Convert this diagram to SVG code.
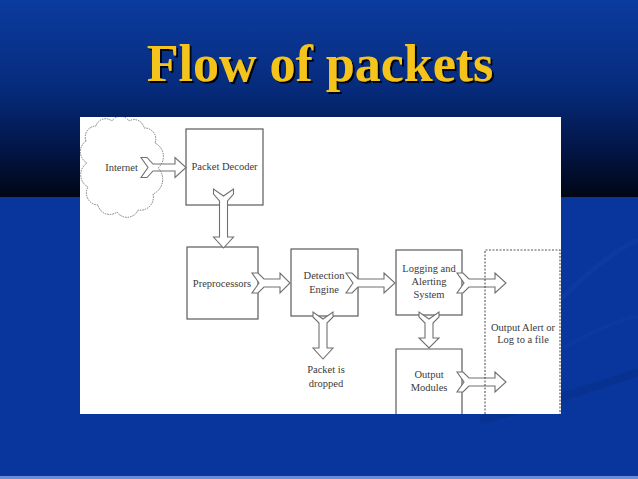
<svg xmlns="http://www.w3.org/2000/svg" width="638" height="479" viewBox="0 0 638 479">
<defs>
<linearGradient id="topbg" x1="0" y1="0" x2="0" y2="1">
<stop offset="0" stop-color="#0b3b9f"/>
<stop offset="0.45" stop-color="#062b7c"/>
<stop offset="0.75" stop-color="#021648"/>
<stop offset="1" stop-color="#000614"/>
</linearGradient>
<filter id="shadow" x="-5%" y="-10%" width="110%" height="130%">
<feDropShadow dx="2" dy="2" stdDeviation="0.6" flood-color="#000000" flood-opacity="0.9"/>
</filter>
<clipPath id="panel">
<rect x="80" y="117" width="481" height="297"/>
</clipPath>
</defs>
<style>
.lbl{font-family:"Liberation Serif","Times New Roman",serif;font-size:10.5px;fill:#3a3a3a;text-anchor:middle}
.box{fill:#ffffff;stroke:#5a5a5a;stroke-width:1.2}
.arr{fill:#ffffff;stroke:#707070;stroke-width:1.1;stroke-linejoin:miter}
.dash{fill:none;stroke:#555;stroke-width:1.1;stroke-dasharray:2 1.5}
.cloud{fill:none;stroke:#7a7a7a;stroke-width:1;stroke-dasharray:1.5 1}
</style>
<!-- background -->
<rect x="0" y="0" width="638" height="197" fill="url(#topbg)"/>
<rect x="0" y="197" width="638" height="282" fill="#08369c"/>
<path d="M560 300 C590 270 615 250 638 240" fill="none" stroke="#2a56b8" stroke-width="5" opacity="0.15"/>
<path d="M560 350 C595 330 620 320 638 316" fill="none" stroke="#2a56b8" stroke-width="4" opacity="0.12"/>
<path d="M480 420 C540 405 600 385 638 372" fill="none" stroke="#052a80" stroke-width="8" opacity="0.35"/>
<rect x="0" y="476" width="638" height="3" fill="#6a8ed6"/>
<!-- title -->
<text x="320" y="81" text-anchor="middle" font-family="Liberation Serif,'Times New Roman',serif" font-weight="bold" font-size="52" fill="#f4c41c" filter="url(#shadow)">Flow of packets</text>
<!-- white panel -->
<rect x="80" y="117" width="481" height="297" fill="#ffffff"/>
<!-- nodes (solid boxes) -->
<g id="node-packet-decoder">
<rect class="box" x="186" y="129" width="77" height="76"/>
<text class="lbl" x="224.5" y="170">Packet Decoder</text>
</g>
<g id="node-preprocessors">
<rect class="box" x="187" y="247" width="71" height="72"/>
<text class="lbl" x="222" y="287">Preprocessors</text>
</g>
<g id="node-detection-engine">
<rect class="box" x="291" y="249" width="67" height="67"/>
<text class="lbl" x="324" y="279">Detection</text>
<text class="lbl" x="324" y="293">Engine</text>
</g>
<g id="node-logging">
<rect class="box" x="396" y="250" width="66" height="65"/>
<text class="lbl" x="429" y="272">Logging and</text>
<text class="lbl" x="429" y="285">Alerting</text>
<text class="lbl" x="429" y="298">System</text>
</g>
<g id="node-output-modules">
<path class="box" d="M396 414 V349 H462 V414"/>
<text class="lbl" x="429" y="378">Output</text>
<text class="lbl" x="429" y="391">Modules</text>
</g>
<g id="node-packet-dropped">
<text class="lbl" x="326" y="373">Packet is</text>
<text class="lbl" x="326" y="387">dropped</text>
</g>
<!-- connectors -->
<g id="connectors">
<path class="arr" d="M141 157.5 L147 157.5 L153 164 L175 164 L175 157.5 L186 167.5 L175 177.5 L175 171 L153 171 L147 177.5 L141 177.5 L148 167.5 Z"/>
<path class="arr" d="M213.5 189 L213.5 194 L219.5 201 L219.5 237 L213.5 237 L223.5 248 L233.5 237 L227.5 237 L227.5 201 L233.5 194 L233.5 189 L223.5 196 Z"/>
<path class="arr" d="M252 273 L258 273 L264 279 L280 279 L280 273 L290 283 L280 293 L280 287 L264 287 L258 293 L252 293 L259 283 Z"/>
<path class="arr" d="M346 273 L352 273 L358 279 L384 279 L384 273 L395 283 L384 293 L384 287 L358 287 L352 293 L346 293 L353 283 Z"/>
<path class="arr" d="M313 312 L313 317 L319 323 L319 348 L313 348 L323 359 L333 348 L327 348 L327 323 L333 317 L333 312 L323 319 Z"/>
<path class="arr" d="M457 273 L463 273 L469 279 L495 279 L495 273 L506 283 L495 293 L495 287 L469 287 L463 293 L457 293 L464 283 Z"/>
<path class="arr" d="M419 312 L419 317 L425 323 L425 338 L419 338 L429 348 L439 338 L433 338 L433 323 L439 317 L439 312 L429 319 Z"/>
<path class="arr" d="M457 372 L463 372 L469 378 L495 378 L495 372 L506 382 L495 392 L495 386 L469 386 L463 392 L457 392 L464 382 Z"/>
</g>
<!-- dashed nodes -->
<g id="node-internet" clip-path="url(#panel)">
<path class="cloud" d="M86 141 A11 11 0 0 1 96 126 A10 10 0 0 1 112 121 A10 10 0 0 1 129 121 A10 10 0 0 1 144 128 A11 11 0 0 1 155 143 A15 15 0 0 1 158 168 A16 16 0 0 1 153 194 A13 13 0 0 1 138 210 A12 12 0 0 1 117 212 A12 12 0 0 1 98 205 A12 12 0 0 1 88 187 A14 14 0 0 1 87 163 A13 13 0 0 1 86 141 Z"/>
<text class="lbl" x="121.5" y="171">Internet</text>
</g>
<g id="node-output-alert">
<path class="dash" d="M485 414 V250 H560 V414"/>
<text class="lbl" x="523" y="331">Output Alert or</text>
<text class="lbl" x="523" y="343">Log to a file</text>
</g>
</svg>
